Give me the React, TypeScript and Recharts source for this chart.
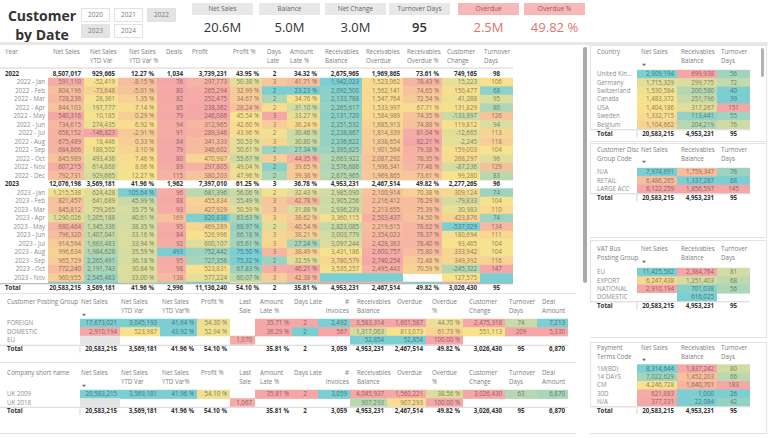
import React from 'react'
import { ScatterChart, Scatter, XAxis, YAxis, ReferenceLine } from 'recharts'

const FONT = "'Open Sans', 'Noto Sans', sans-serif"
const FS = 6.2

// ---------- header ----------
const slicerYears = ['2020', '2021', '2022', '2023', '2024']
const selectedYears = ['2022', '2023']
const kpiLabels = ['Net Sales', 'Balance', 'Net Change', 'Turnover Days', 'Overdue', 'Overdue %']
const kpiValues = ['20.6M', '5.0M', '3.0M', '95', '2.5M', '49.82 %']

// ---------- main table (2022 Jan .. 2023 Dec) ----------
const monthNames = ['Jan', 'Feb', 'Mar', 'Apr', 'May', 'Jun', 'Jul', 'Aug', 'Sep', 'Oct', 'Nov', 'Dec']
const yearLabels = ['2022', '2023']
const netSales = [591110, 804196, 728236, 844103, 540316, 734615, 658152, 675489, 684866, 845989, 607215, 792731,
  1215538, 821457, 845812, 1290026, 680464, 796320, 914594, 996634, 965729, 772240, 960955, 1816429]
const ytdVar = [-52419, -73648, 28361, 197777, 10185, 274435, -146823, 18446, 188502, 493436, 614868, 929665,
  624428, 641689, 759265, 1205188, 1345336, 1407041, 1663483, 1984628, 2265491, 2191743, 2545483, 3569181]
const ytdVarPct = [-8.15, -5.01, 1.35, 7.14, 0.29, 6.92, -2.91, 0.33, 3.1, 7.46, 8.66, 12.27,
  105.64, 45.99, 35.75, 40.61, 38.35, 33.16, 33.94, 35.59, 36.18, 30.84, 33.0, 41.96]
const deals = [76, 80, 82, 85, 79, 94, 91, 84, 79, 80, 89, 115, 96, 88, 93, 169, 95, 84, 92, 493, 95, 98, 138, 421]
const profit = [297773, 265294, 252475, 238362, 246086, 312965, 289346, 341333, 346602, 470987, 297805, 380203,
  681396, 455834, 427929, 820838, 469289, 526996, 600107, 752442, 727356, 523831, 577224, 833768]
const profitPct = [50.38, 32.99, 34.67, 28.24, 45.54, 42.6, 43.96, 50.53, 50.61, 55.67, 49.04, 47.96,
  56.06, 55.49, 50.59, 63.63, 68.97, 66.18, 65.61, 75.5, 75.32, 67.83, 60.07, 45.9]
const daysLate = [2.7, 1.6, 1.9, 2.4, 3.1, 2.6, 2.3, 2.5, 1.8, 2.6, 1.7, 1.9,
  2.3, 2.7, 2.7, 2.5, 2.2, 2.5, 2.5, 2.9, 1.8, 3.0, 2.6, 2.0]
const amountLatePct = [41.71, 23.23, 34.76, 31.1, 33.27, 36.24, 30.46, 30.8, 27.34, 44.35, 39.65, 39.38,
  32.43, 42.78, 31.88, 38.62, 40.54, 38.21, 27.24, 38.49, 32.59, 46.21, 42.38, 25.4]
const recBalance = [1942023, 2092500, 2133788, 2265617, 2131720, 2251532, 2238867, 2236622, 2395625, 2663922, 2576686, 2675965,
  2985090, 2905256, 2936239, 3360115, 2823085, 3003779, 3097244, 3431186, 3780579, 3535257, null, 4953231]
const recOverdue = [1523062, 1562141, 1547764, 1533997, 1584989, 1685913, 1814339, 1838654, 1901564, 2087292, 1996341, 1969865,
  2100914, 2216412, 2213655, 2503437, 2219615, 2354023, 2428363, 2600757, 2740254, 2495443, null, 2467514]
const recOverduePct = [78.43, 74.65, 72.54, 67.71, 74.35, 74.88, 81.04, 82.21, 79.38, 78.35, 77.48, 73.61,
  70.38, 76.29, 75.39, 74.5, 78.62, 78.37, 78.4, 75.8, 72.48, 70.59, null, 49.82]
const custChange = [15223, 150477, 41288, 131829, -133897, 119812, -12665, -2245, 159003, 268297, -87236, 99280,
  309124, -79833, 30983, 423876, -537029, 180694, 93465, 333942, 349392, -245322, 127575, 1290398]
const turnoverDays = [106, 68, 95, 80, 126, 94, 113, 118, 104, 96, 129, 83,
  74, 104, 110, 74, 134, 111, 104, 104, 116, 147, null, 62]
const total2022 = [8507017, 929665, 12.27, 1034, 3739231, 43.95, 2, 34.32, 2675965, 1969865, 73.61, 749165, 98]
const total2023 = [12076198, 3569181, 41.96, 1962, 7397010, 61.25, 3, 36.78, 4953231, 2467514, 49.82, 2277265, 96]
const grandTotal = [20583215, 3569181, 41.96, 2996, 11136240, 54.1, 2, 35.81, 4953231, 2467514, 49.82, 3026430, 95]

// ---------- bottom tables ----------
const postingGroups = ['FOREIGN', 'DOMESTIC', 'EU']
const postingForeign = [17673021, 3045193, 41.64, 54.3, null, 35.71, 2.3, 2492, 3583314, 1601587, 44.7, 2475318, 74, 7213]
const postingDomestic = [2910194, 523987, 43.92, 52.94, null, 36.29, 1.9, 567, 1317063, 813073, 61.73, 551113, 209, 5330]
const postingEu = [null, null, null, null, 1070, null, null, null, 52854, 52854, 100, null, null, null]
const postingTotal = [20583215, 3569181, 41.96, 54.1, null, 35.81, 2, 3059, 4953231, 2467514, 49.82, 3026430, 95, 6870]
const companies = ['UK 2009', 'UK 2018']
const companyUk2009 = [20583215, 3569181, 41.96, 54.1, null, 35.81, 2.3, 3059, 4045937, 1560221, 38.56, 3026430, 63, 6870]
const companyUk2018 = [null, null, null, null, 1067, null, null, null, 907293, 907293, 100, null, null, null]
const companyTotal = [20583215, 3569181, 41.96, 54.1, null, 35.81, 2, 3059, 4953231, 2467514, 49.82, 3026430, 95, 6870]

// ---------- right tables ----------
const countries = ['United Kin...', 'Germany', 'Switzerland', 'Canada', 'USA', 'Sweden', 'Belgium']
const countryNetSales = [2909194, 1715329, 1530584, 1483372, 1404186, 1332715, 1104662]
const countryBalance = [699938, 299775, 200580, 251796, 317267, 113441, 204219]
const countryTurnover = [56, 72, 40, 39, 151, 55, 76]
const discGroups = ['N/A', 'RETAIL', 'LARGE ACC']
const discNetSales = [7974691, 6486265, 6122259]
const discBalance = [1759347, 1337287, 1856597]
const discTurnover = [78, 68, 145]
const vatGroups = ['EU', 'EXPORT', 'NATIONAL', 'DOMESTIC']
const vatNetSales = [11425582, 6247438, 2910194, null]
const vatBalance = [2384764, 1251403, 701038, 616025]
const vatTurnover = [81, 68, 56, null]
const payTerms = ['1M(BD)', '14 DAYS', 'CM', '30D', 'N/A']
const payNetSales = [8314644, 7022629, 4246728, 621883, 377331]
const payBalance = [1837242, 1452203, 1640701, 1000, 22084]
const payTurnover = [80, 66, 183, 26, 42]
const rightTotal = [20583215, 4953231, 95]

// ---------- formatting & colour scale ----------
const int = (v: number) => (v < 0 ? '-' : '') + Math.round(Math.abs(v)).toString().replace(/\B(?=(\d{3})+(?!\d))/g, ',')
const pct = (v: number) => v.toFixed(2) + ' %'
const whole = (v: number) => String(Math.round(v))

type RGB = [number, number, number]
const PINK: RGB = [245, 167, 168]
const YELLOW: RGB = [248, 226, 142]
const TEAL: RGB = [123, 206, 210]
const rgb = (c: RGB) => `rgb(${c.map((x) => Math.round(x)).join(',')})`
const mix = (a: RGB, b: RGB, t: number): RGB => [a[0] + (b[0] - a[0]) * t, a[1] + (b[1] - a[1]) * t, a[2] + (b[2] - a[2]) * t]
const clamp01 = (t: number) => Math.max(0, Math.min(1, t))

type Scale = { rev?: boolean; lo?: number; mid?: number; hi?: number; blank?: string }
type Col = { head: string[]; hx: number; hEnd?: boolean; l: number; r: number; fmt: (v: number) => string; align?: 'right' | 'center'; scale?: Scale }
type Row = { label: string; vals: (number | null)[]; kind: 'item' | 'group' }

function heat(v: number, d: { lo: number; mid: number; hi: number; rev: boolean }): RGB {
  const low = d.rev ? TEAL : PINK
  const high = d.rev ? PINK : TEAL
  if (d.hi === d.lo) return low
  if (v <= d.mid) return mix(low, YELLOW, clamp01((v - d.lo) / (d.mid - d.lo || 1)))
  return mix(YELLOW, high, clamp01((v - d.mid) / (d.hi - d.mid || 1)))
}

function TableMark(props: any) {
  const { cx, cy, payload: d } = props
  if (typeof cx !== 'number' || typeof cy !== 'number' || !d) return <g />
  if (d.kind === 'head') {
    return (
      <g>
        {d.lines.map((t: string, k: number) => (
          <text key={k} x={cx} y={cy + k * 9} dy="0.35em" textAnchor={d.anchor} fontSize={FS} fill="#7d7d7d" fontFamily={FONT}>{t}</text>
        ))}
      </g>
    )
  }
  if (d.kind === 'arrow') {
    return <path d={`M${cx - 2},${cy - 1.2}L${cx + 2},${cy - 1.2}L${cx},${cy + 1.3}Z`} fill="#707070" />
  }
  if (d.kind === 'label') {
    if (!d.text) return <g />
    return (
      <text x={cx} y={cy} dy="0.35em" textAnchor={d.anchor} fontSize={FS} fontWeight={d.bold ? 700 : 400}
        fill={d.bold ? '#333' : '#8d8d8d'} fontFamily={FONT}>{d.text}</text>
    )
  }
  if (d.kind === 'band') {
    const top = cy - d.up
    return (
      <g>
        <rect x={cx - d.w / 2} y={top} width={d.w} height={d.up + d.down} fill="#fff" />
        <line x1={cx + d.lineL} x2={cx + d.lineR} y1={top + 0.5} y2={top + 0.5} stroke={d.lineColor} strokeWidth={1} />
        {d.divX != null && (
          <line x1={cx + d.divX} x2={cx + d.divX} y1={top + 1.5} y2={top + d.up * 2 - 0.5} stroke="#c8c8c8" strokeWidth={0.8} />
        )}
      </g>
    )
  }
  const x0 = cx - d.w / 2
  const center = d.align === 'center'
  return (
    <g>
      {d.fill && <rect x={x0} y={cy - d.h / 2} width={d.w} height={d.h + 0.6} fill={d.fill} />}
      {d.text && (
        <text x={center ? cx : x0 + d.w - 3} y={cy} dy="0.35em" textAnchor={center ? 'middle' : 'end'} fontSize={FS}
          fontWeight={d.bold ? 700 : 400} fill={d.color} fontFamily={FONT}>{d.text}</text>
      )}
    </g>
  )
}

interface TableProps {
  width: number
  height: number
  cols: Col[]
  rows: Row[]
  total: (number | null)[]
  labelHead: string[]
  labelX: number
  itemX?: number
  headY: number
  firstY: number
  rowH: number
  totalY: number
  headRule?: number
  arrowY?: number
  totalLine?: string
  divider?: boolean
}

function HeatTable(p: TableProps) {
  const { width, height, cols, rows, total, rowH, firstY } = p
  const toRow = (px: number) => (px - firstY) / rowH
  const right = cols[cols.length - 1].r
  const bandUp = rowH / 2
  const bandTop = p.totalY - bandUp
  const domains = cols.map((c, j) => {
    if (!c.scale) return null
    const vs = rows.filter((r) => r.kind === 'item').map((r) => r.vals[j]).filter((v): v is number => v != null)
    const lo = c.scale.lo ?? Math.min(...vs)
    const hi = c.scale.hi ?? Math.max(...vs)
    const mid = c.scale.mid ?? (lo + hi) / 2
    return { lo, hi, mid, rev: !!c.scale.rev, blank: c.scale.blank }
  })

  const body: any[] = []
  body.push({ kind: 'head', x: p.labelX, y: toRow(p.headY), lines: p.labelHead, anchor: 'start' })
  cols.forEach((c) => body.push({ kind: 'head', x: c.hx, y: toRow(p.headY), lines: c.head, anchor: c.hEnd ? 'end' : 'start' }))
  if (p.arrowY != null) body.push({ kind: 'arrow', x: cols[0].hx + 3, y: toRow(p.arrowY) })
  rows.forEach((r, i) => {
    const group = r.kind === 'group'
    const byRight = !group && p.itemX != null
    // rows scrolled under the sticky total row keep their colour but their text is hidden
    const hidden = firstY + i * rowH > bandTop
    body.push({ kind: 'label', x: byRight ? p.itemX : p.labelX, y: i, text: hidden ? '' : r.label, anchor: byRight ? 'end' : 'start', bold: group })
    cols.forEach((c, j) => {
      const v = r.vals[j]
      const dom = domains[j]
      let fill: string | null = null
      let color = '#555'
      if (!group && dom) {
        if (v == null) fill = dom.blank ?? null
        else {
          const bg = heat(v, dom)
          fill = rgb(bg)
          color = rgb(bg.map((x) => x * 0.58) as RGB)
        }
      }
      if (group) color = '#333'
      body.push({ kind: 'cell', x: (c.l + c.r) / 2, y: i, w: c.r - c.l, h: rowH, fill, color, text: v == null || hidden ? '' : c.fmt(v), align: c.align, bold: group })
    })
  })

  const foot: any[] = []
  const ty = toRow(p.totalY)
  foot.push({
    kind: 'band', x: width / 2, y: ty, w: width, up: bandUp, down: height - p.totalY,
    lineL: -width / 2, lineR: right - width / 2, lineColor: p.totalLine ?? '#d4d4d4',
    divX: p.divider ? cols[0].l - width / 2 : null,
  })
  foot.push({ kind: 'label', x: p.labelX, y: ty, text: 'Total', anchor: 'start', bold: true })
  cols.forEach((c, j) => {
    const v = total[j]
    foot.push({ kind: 'cell', x: (c.l + c.r) / 2, y: ty, w: c.r - c.l, h: rowH, fill: null, color: '#333', text: v == null ? '' : c.fmt(v), align: c.align, bold: true })
  })

  return (
    <ScatterChart width={width} height={height} margin={{ top: 0, right: 0, bottom: 0, left: 0 }}>
      <XAxis type="number" dataKey="x" domain={[0, width]} hide allowDataOverflow />
      <YAxis type="number" dataKey="y" domain={[toRow(0), toRow(height)]} hide reversed allowDataOverflow />
      {p.headRule != null && (
        <ReferenceLine segment={[{ x: 0, y: toRow(p.headRule) }, { x: right, y: toRow(p.headRule) }]} stroke="#d2d2d2" strokeWidth={1} ifOverflow="visible" />
      )}
      <Scatter data={body} shape={(s: any) => <TableMark {...s} />} isAnimationActive={false} />
      <Scatter data={foot} shape={(s: any) => <TableMark {...s} />} isAnimationActive={false} />
    </ScatterChart>
  )
}

// ---------- column layouts ----------
const TEAL_HEX = rgb(TEAL)
const mainSeries = [netSales, ytdVar, ytdVarPct, deals, profit, profitPct, daysLate, amountLatePct, recBalance, recOverdue, recOverduePct, custChange, turnoverDays]
const mainCols: Col[] = [
  { head: ['Net Sales'], hx: 53, l: 48, r: 84, fmt: int, scale: {} },
  { head: ['Net Sales', 'YTD Var'], hx: 90, l: 84, r: 118, fmt: int, scale: { mid: -50000 } },
  { head: ['Net Sales', 'YTD Var %'], hx: 129, l: 118, r: 157, fmt: pct, scale: { lo: -20, mid: 10 } },
  { head: ['Deals'], hx: 166, l: 157, r: 186, fmt: int, scale: {} },
  { head: ['Profit'], hx: 192, l: 186, r: 230, fmt: int, scale: {} },
  { head: ['Profit %'], hx: 233, l: 230, r: 262, fmt: pct, scale: { lo: 15 } },
  { head: ['Days', 'Late'], hx: 267, l: 262, r: 287, fmt: whole, align: 'center', scale: { rev: true } },
  { head: ['Amount', 'Late %'], hx: 290, l: 287, r: 320, fmt: pct, scale: { rev: true } },
  { head: ['Receivables', 'Balance'], hx: 325, l: 320, r: 362, fmt: int, scale: { rev: true, blank: TEAL_HEX } },
  { head: ['Receivables', 'Overdue'], hx: 366, l: 362, r: 403, fmt: int, scale: { rev: true, lo: 0, blank: TEAL_HEX } },
  { head: ['Receivables', 'Overdue %'], hx: 407, l: 403, r: 442, fmt: pct, scale: { rev: true } },
  { head: ['Customer', 'Change'], hx: 447, l: 442, r: 480, fmt: int, scale: { rev: true, mid: 100000 } },
  { head: ['Turnover', 'Days'], hx: 484, l: 480, r: 513, fmt: whole, align: 'center', scale: { rev: true, blank: TEAL_HEX } },
]

const mainRows: Row[] = []
yearLabels.forEach((y, yi) => {
  mainRows.push({ label: y, kind: 'group', vals: yi === 0 ? total2022 : total2023 })
  monthNames.forEach((m, mi) => {
    const k = yi * 12 + mi
    mainRows.push({ label: `${y} - ${m}`, kind: 'item', vals: mainSeries.map((s) => s[k]) })
  })
})

const bottomCols: Col[] = [
  { head: ['Net Sales'], hx: 81, l: 80, r: 120, fmt: int, scale: { lo: 2910194, hi: 17673021, blank: '#e4e4e4' } },
  { head: ['Net Sales', 'YTD Var'], hx: 121, l: 120, r: 160, fmt: int, scale: { lo: -2000000, hi: 3045193 } },
  { head: ['Net Sales', 'YTD Var%'], hx: 162, l: 160, r: 197, fmt: pct, scale: { lo: -40, hi: 40 } },
  { head: ['Profit %'], hx: 201, l: 197, r: 230, fmt: pct, scale: { lo: 0, hi: 100 } },
  { head: ['Last', 'Sale'], hx: 251, hEnd: true, l: 230, r: 255, fmt: int, scale: { lo: 1000, hi: 3000 } },
  { head: ['Amount', 'Late %'], hx: 260, l: 255, r: 292, fmt: pct, scale: { rev: true, lo: 0, hi: 35 } },
  { head: ['Days Late'], hx: 294, l: 292, r: 318, fmt: whole, align: 'center', scale: { rev: true, lo: 1.9, hi: 2.3 } },
  { head: ['#', 'Invoices'], hx: 349, hEnd: true, l: 318, r: 350, fmt: int, scale: { lo: 567, hi: 2492 } },
  { head: ['Receivables', 'Balance'], hx: 357, l: 350, r: 387, fmt: int, scale: { rev: true, lo: 52854, hi: 3583314 } },
  { head: ['Overdue'], hx: 397, l: 387, r: 426, fmt: int, scale: { rev: true, lo: 52854, hi: 1601587 } },
  { head: ['Overdue', '%'], hx: 432, l: 426, r: 463, fmt: pct, scale: { rev: true, lo: 0, hi: 100 } },
  { head: ['Customer', 'Change'], hx: 469, l: 463, r: 505, fmt: int, scale: { rev: true, lo: -1400000, hi: 2475318 } },
  { head: ['Turnover', 'Days'], hx: 509, l: 505, r: 537, fmt: whole, align: 'center', scale: { rev: true, lo: 26, hi: 183 } },
  { head: ['Deal', 'Amount'], hx: 542, l: 537, r: 568, fmt: int, scale: { lo: 5330, hi: 7213 } },
]
const postingRows: Row[] = [postingForeign, postingDomestic, postingEu].map((vals, i) => ({ label: postingGroups[i], kind: 'item', vals }))
const companyRows: Row[] = [companyUk2009, companyUk2018].map((vals, i) => ({ label: companies[i], kind: 'item', vals }))

const rightCols = (ns: Scale, rb: Scale, td: Scale): Col[] => [
  { head: ['Net Sales'], hx: 51, l: 47, r: 87, fmt: int, scale: ns },
  { head: ['Receivables', 'Balance'], hx: 91, l: 87, r: 127, fmt: int, scale: { rev: true, ...rb } },
  { head: ['Turnover', 'Days'], hx: 131, l: 127, r: 160, fmt: whole, align: 'center', scale: { rev: true, ...td } },
]
const toRows = (labels: string[], a: (number | null)[], b: (number | null)[], c: (number | null)[]): Row[] =>
  labels.map((label, i) => ({ label, kind: 'item', vals: [a[i], b[i], c[i]] }))

const box = (left: number, top: number, width: number, height: number, extra: React.CSSProperties = {}): React.CSSProperties => ({
  position: 'absolute', left, top, width, height, boxSizing: 'border-box', ...extra,
})

export default function App() {
  const kpiLefts = [192, 259, 325, 389, 458, 524]
  const slicerPos = [[81, 8], [114, 8], [147, 8], [81, 24], [114, 24]]
  return (
    <div style={{ position: 'absolute', left: 0, top: 0, width: 768, height: 438, background: '#fff', overflow: 'hidden', fontFamily: FONT }}>
      {/* title */}
      <div style={box(6, 6, 72, 40, { textAlign: 'center', fontWeight: 700, fontSize: 14, lineHeight: '19px', color: '#333' })}>
        Customer<br />by Date
      </div>
      {/* year slicer */}
      {slicerYears.map((y, i) => (
        <div key={y} style={box(slicerPos[i][0], slicerPos[i][1], 29, 14, {
          border: '1px solid #e2e2e2', background: selectedYears.includes(y) ? '#e4e4e4' : '#fff',
          fontSize: 6.5, lineHeight: '12px', textAlign: 'center', color: '#7a7a7a',
        })}>{y}</div>
      ))}
      {/* KPI cards */}
      {kpiLabels.map((k, i) => {
        const bad = i >= 4
        return (
          <React.Fragment key={k}>
            <div style={box(kpiLefts[i], 3, 61, 12, { background: bad ? '#f6b9b9' : '#e8e8e8', fontSize: 6.5, lineHeight: '12px', textAlign: 'center', color: bad ? '#9e5555' : '#666' })}>{k}</div>
            <div style={box(kpiLefts[i], 17, 61, 20, { fontSize: 13, lineHeight: '20px', textAlign: 'center', color: bad ? '#e07272' : '#333', fontWeight: i === 3 ? 600 : 400 })}>{kpiValues[i]}</div>
          </React.Fragment>
        )
      })}
      <div style={box(0, 42, 768, 3, { background: '#e8e8e8' })} />

      {/* main matrix */}
      <div style={box(0, 45, 575, 248)}>
        <HeatTable width={575} height={248} cols={mainCols} rows={mainRows} total={grandTotal} labelHead={['Year']}
          labelX={5} itemX={45} headY={7} firstY={28.5} rowH={8.5} totalY={242.5} headRule={23} totalLine="#a8a8a8" />
      </div>
      <div style={box(0, 293, 576, 1, { background: '#e2e2e2' })} />

      {/* customer posting group */}
      <div style={box(0, 294, 575, 66)}>
        <HeatTable width={575} height={66} cols={bottomCols} rows={postingRows} total={postingTotal} labelHead={['Customer Posting Group']}
          labelX={7} headY={8} firstY={29} rowH={8.5} totalY={55} arrowY={21} divider />
      </div>
      <div style={box(0, 362, 576, 1, { background: '#e2e2e2' })} />

      {/* company */}
      <div style={box(0, 364, 575, 69)}>
        <HeatTable width={575} height={69} cols={bottomCols} rows={companyRows} total={companyTotal} labelHead={['Company short name']}
          labelX={7} headY={9} firstY={30} rowH={8.5} totalY={47} arrowY={22} divider />
      </div>
      <div style={box(0, 433, 576, 1, { background: '#e2e2e2' })} />

      {/* scrollbar of the right column */}
      <div style={box(583, 47, 4, 236, { background: '#a9a9a9', borderRadius: 2 })} />

      {/* right tables */}
      <div style={box(590, 45, 177, 97, { border: '1px solid #e3e3e3' })} />
      <div style={box(590, 46, 170, 95)}>
        <HeatTable width={170} height={95} cols={rightCols({ lo: 0 }, { lo: 50000 }, {})} rows={toRows(countries, countryNetSales, countryBalance, countryTurnover)}
          total={rightTotal} labelHead={['Country']} labelX={7} headY={6} firstY={28} rowH={8.4} totalY={87.5} arrowY={19} divider />
      </div>
      <div style={box(761, 48, 3, 29, { background: '#b3b3b3', borderRadius: 2 })} />

      <div style={box(590, 143, 177, 95, { border: '1px solid #e3e3e3' })} />
      <div style={box(590, 143, 176, 94)}>
        <HeatTable width={176} height={94} cols={rightCols({}, {}, {})} rows={toRows(discGroups, discNetSales, discBalance, discTurnover)}
          total={rightTotal} labelHead={['Customer Disc', 'Group Code']} labelX={7} headY={6.5} firstY={29} rowH={8.4} totalY={54.5} arrowY={19} divider />
      </div>

      <div style={box(590, 240, 177, 98, { border: '1px solid #e3e3e3' })} />
      <div style={box(590, 240, 176, 97)}>
        <HeatTable width={176} height={97} cols={rightCols({ blank: '#fff' }, {}, { lo: 26, hi: 183 })} rows={toRows(vatGroups, vatNetSales, vatBalance, vatTurnover)}
          total={rightTotal} labelHead={['VAT Bus', 'Posting Group']} labelX={7} headY={9} firstY={32} rowH={8.4} totalY={65.5} arrowY={22} divider />
      </div>

      <div style={box(590, 342, 177, 92, { border: '1px solid #e3e3e3' })} />
      <div style={box(590, 342, 176, 91)}>
        <HeatTable width={176} height={91} cols={rightCols({}, {}, {})} rows={toRows(payTerms, payNetSales, payBalance, payTurnover)}
          total={rightTotal} labelHead={['Payment', 'Terms Code']} labelX={7} headY={6} firstY={26.5} rowH={8.4} totalY={68.5} arrowY={18} divider />
      </div>
    </div>
  )
}
